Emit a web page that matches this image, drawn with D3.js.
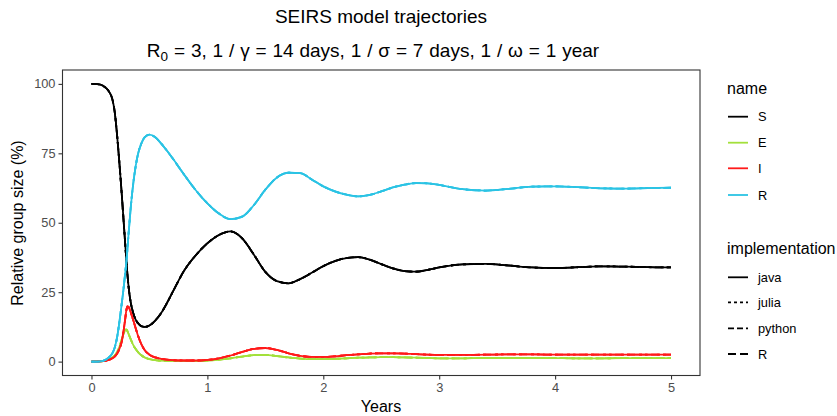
<!DOCTYPE html>
<html><head><meta charset="utf-8">
<script src="https://cdn.jsdelivr.net/npm/d3@7"></script>
<style>
body{margin:0;background:#fff;}
svg{display:block;font-family:"Liberation Sans",Arial,Helvetica,sans-serif;}
</style></head>
<body><svg id="chart" width="837" height="416"></svg>
<script>
// ---- data ----
const times = [0,0.05,0.1,0.15,0.18,0.2,0.22,0.24,0.26,0.28,0.29,0.3,0.31,0.32,0.34,0.36,0.38,0.4,0.43,0.46,0.5,0.55,0.6,0.65,0.7,
  0.8,0.9,1.0,1.1,1.2,1.3,1.4,1.5,1.6,1.7,1.8,1.9,2.0,2.1,2.2,2.3,2.4,2.5,2.6,2.7,2.8,2.9,3.0,
  3.2,3.4,3.6,3.8,4.0,4.2,4.4,4.6,4.8,5.0];
const S = [100,99.9,99.3,97.3,94.5,90,82,72,61,49,43,37,31.5,27,21,17.5,15.2,13.9,12.8,12.5,13.0,14.8,17.4,21.0,25.0,
  32.8,38.3,42.6,45.6,46.9,44.4,38.6,32.3,29.0,28.2,29.7,32.0,34.4,36.2,37.3,37.6,36.7,35.1,33.6,32.6,32.4,33.0,33.9,
  35.0,35.2,34.6,33.9,33.7,34.0,34.3,34.2,34.0,33.9];
const E = [0,0.05,0.2,0.8,1.5,2.2,3.3,5.2,7.8,10.4,11.4,11.6,11.0,10.0,7.9,6.0,4.6,3.5,2.3,1.5,0.9,0.5,0.35,0.25,0.2,
  0.2,0.25,0.4,0.7,1.2,1.8,2.3,2.4,2.0,1.5,1.1,0.9,0.9,1.0,1.2,1.4,1.5,1.6,1.6,1.5,1.4,1.3,1.2,
  1.2,1.3,1.3,1.3,1.25,1.2,1.2,1.25,1.25,1.25];
const I = [0,0.03,0.15,0.6,1.2,1.8,2.8,4.5,7.0,12.0,15.0,18.3,19.9,19.7,17.6,15.0,12.2,9.5,6.3,4.1,2.5,1.5,1.0,0.7,0.5,
  0.4,0.4,0.6,1.2,2.2,3.5,4.6,4.9,4.2,3.0,2.1,1.7,1.7,1.9,2.3,2.6,2.9,3.0,3.0,2.9,2.7,2.5,2.4,
  2.4,2.5,2.6,2.6,2.5,2.5,2.5,2.5,2.5,2.5];
const R = [0,0.02,0.3,1.5,3.0,5.0,8.5,14,20.5,27.5,31.5,35.5,40.5,46,56,64,70,74.5,78.5,80.8,81.7,80.8,78.6,76.0,73.2,
  67.3,61.7,57.0,53.3,51.3,52.2,56.3,61.9,66.3,68.0,67.9,65.6,63.1,61.3,60.1,59.5,60.0,61.3,62.7,63.7,64.3,64.2,63.6,
  62.1,61.6,62.2,63.0,63.1,62.8,62.4,62.3,62.5,62.6];
const names = ["S","E","I","R"];
const implementations = ["java","julia","python","R"];
const xTicks = [0,1,2,3,4,5];
const yTicks = [0,25,50,75,100];

// ---- styles ----
const seriesValues = {S:S, E:E, I:I, R:R};
const colors = {S:"#000000", E:"#a3e03b", I:"#ff1a1a", R:"#2bc3e4"};
const dashes = {java:null, julia:"3,3", python:"6,3", R:"8,4"};

const svg = d3.select("#chart");
const m = {left:62.5, right:700, top:70, bottom:375.5};
const x = d3.scaleLinear().domain([-0.25,5.25]).range([m.left,m.right]);
const y = d3.scaleLinear().domain([-5,105]).range([m.bottom,m.top]);

// axes
const xAxis = svg.append("g").attr("transform",`translate(0,${m.bottom})`)
  .call(d3.axisBottom(x).tickValues(xTicks).tickFormat(d3.format("d")).tickSizeOuter(0).tickSize(4).tickPadding(3));
const yAxis = svg.append("g").attr("transform",`translate(${m.left},0)`)
  .call(d3.axisLeft(y).tickValues(yTicks).tickFormat(d3.format("d")).tickSizeOuter(0).tickSize(4).tickPadding(3));
[xAxis,yAxis].forEach(a=>{
  a.select(".domain").remove();
  a.selectAll(".tick line").attr("stroke","#333333").attr("stroke-width",1.1);
  a.selectAll(".tick text").attr("fill","#4d4d4d").style("font-size","12.8px");
});

// lines
const clip = svg.append("clipPath").attr("id","clp").append("rect")
  .attr("x",m.left).attr("y",m.top).attr("width",m.right-m.left).attr("height",m.bottom-m.top);
const g = svg.append("g").attr("clip-path","url(#clp)");
const line = d3.line().x((d,i)=>x(times[i])).y(d=>y(d)).curve(d3.curveMonotoneX);
names.forEach(n=>{
  implementations.forEach(im=>{
    g.append("path").attr("d",line(seriesValues[n]))
      .attr("fill","none").attr("stroke",colors[n]).attr("stroke-width",1.8)
      .attr("stroke-dasharray",dashes[im]);
  });
});

// panel border
svg.append("rect").attr("x",m.left).attr("y",m.top).attr("width",m.right-m.left).attr("height",m.bottom-m.top)
  .attr("fill","none").attr("stroke","#333333").attr("stroke-width",1.1);

// titles
svg.append("text").attr("x",381).attr("y",23).attr("text-anchor","middle")
  .style("font-size","19px").text("SEIRS model trajectories");
const sub = svg.append("text").attr("x",373).attr("y",57).attr("text-anchor","middle").style("font-size","19px");
sub.append("tspan").text("R");
sub.append("tspan").attr("dy",4).style("font-size","13.5px").text("0");
sub.append("tspan").attr("dy",-4).text(" = 3, 1 / \u03b3 = 14 days, 1 / \u03c3 = 7 days, 1 / \u03c9 = 1 year");
// widen spacing so the line spans like the reference (~450px)
const subLen = sub.node().getComputedTextLength();
const nSpaces = 16;
sub.attr("word-spacing", Math.max(0,(450 - subLen)/nSpaces));

svg.append("text").attr("x",381).attr("y",412).attr("text-anchor","middle").style("font-size","16px").text("Years");
svg.append("text").attr("transform","translate(23,223) rotate(-90)").attr("text-anchor","middle")
  .style("font-size","16px").text("Relative group size (%)");

// legends
const lg = svg.append("g");
lg.append("text").attr("x",727).attr("y",94).style("font-size","16px").text("name");
const nameRows = [116.7,142.7,168.3,195];
names.forEach((n,i)=>{
  lg.append("line").attr("x1",728).attr("x2",748).attr("y1",nameRows[i]).attr("y2",nameRows[i])
    .attr("stroke",colors[n]).attr("stroke-width",1.8);
  lg.append("text").attr("x",758).attr("y",nameRows[i]+4.5).style("font-size","12.8px").text(n);
});
lg.append("text").attr("x",727).attr("y",254).style("font-size","16px").text("implementation");
const implRows = [277.3,302.3,328.3,354];
implementations.forEach((im,i)=>{
  lg.append("line").attr("x1",728).attr("x2",748).attr("y1",implRows[i]).attr("y2",implRows[i])
    .attr("stroke","#000").attr("stroke-width",1.8).attr("stroke-dasharray",dashes[im]);
  lg.append("text").attr("x",758).attr("y",implRows[i]+4.5).style("font-size","12.8px").text(im);
});
</script></body></html>
